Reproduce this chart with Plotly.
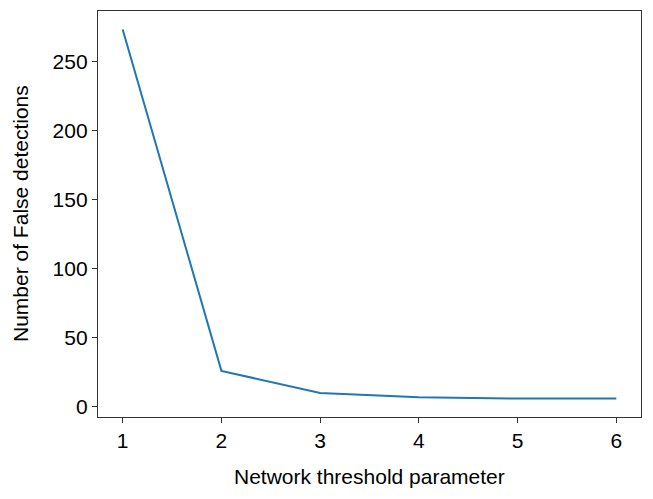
import plotly.graph_objects as go

thresholds = [1, 2, 3, 4, 5, 6]
false_detections = [273, 26, 10, 7, 6, 6]
x_ticks = [1, 2, 3, 4, 5, 6]
y_ticks = [0, 50, 100, 150, 200, 250]

FONT = "Liberation Sans, Arial, sans-serif"

fig = go.Figure()
fig.add_trace(go.Scatter(x=thresholds, y=false_detections, mode="lines",
                         line=dict(color="#1f77b4", width=2)))

axis_common = dict(showline=True, linecolor="#333333", linewidth=1.3, mirror=True,
                   ticks="outside", ticklen=5, tickwidth=1.2, tickcolor="#333333",
                   showgrid=False, zeroline=False, automargin=False,
                   tickfont=dict(family=FONT, size=21, color="black"))

fig.update_layout(
    width=645, height=491,
    margin=dict(l=90, r=12, t=3, b=82),
    paper_bgcolor="white", plot_bgcolor="white",
    showlegend=False,
    xaxis=dict(range=[0.75, 6.25], tickvals=x_ticks, **axis_common),
    yaxis=dict(range=[-7.35, 286.35], tickvals=y_ticks, **axis_common),
    annotations=[
        dict(text="Network threshold parameter", xref="paper", yref="paper",
             x=0.5, y=0, yshift=-59, xanchor="center", yanchor="middle",
             showarrow=False, font=dict(family=FONT, size=21, color="black")),
        dict(text="Number of False detections", xref="paper", yref="paper",
             x=0, y=0.5, xshift=-78, xanchor="center", yanchor="middle", textangle=-90,
             showarrow=False, font=dict(family=FONT, size=21, color="black")),
    ],
)

fig.write_html("out.html")
